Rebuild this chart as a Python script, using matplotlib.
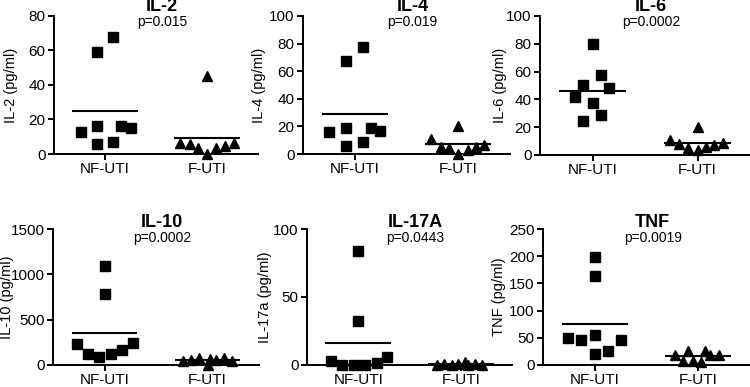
import matplotlib
matplotlib.use("Agg")
import matplotlib.pyplot as plt

plt.rcParams['font.family'] = ['Liberation Sans', 'DejaVu Sans']

groups = ["NF-UTI", "F-UTI"]
titles = ["IL-2", "IL-4", "IL-6", "IL-10", "IL-17A", "TNF"]
pvalues = ["p=0.015", "p=0.019", "p=0.0002", "p=0.0002", "p=0.0443", "p=0.0019"]
ylabels = ["IL-2 (pg/ml)", "IL-4 (pg/ml)", "IL-6 (pg/ml)",
           "IL-10 (pg/ml)", "IL-17a (pg/ml)", "TNF (pg/ml)"]
yticks = [[0, 20, 40, 60, 80], [0, 20, 40, 60, 80, 100], [0, 20, 40, 60, 80, 100],
          [0, 500, 1000, 1500], [0, 50, 100], [0, 50, 100, 150, 200, 250]]

# values per cytokine: NF-UTI (squares), F-UTI (triangles)
il2_nf = [13, 59, 16, 6, 68, 7, 16, 15]
il2_f = [6.6, 5.6, 3.7, 0, 45.2, 3.7, 4.8, 6.6]
il4_nf = [15.7, 67.4, 19.1, 6.0, 77.3, 8.9, 19.1, 16.7]
il4_f = [10.6, 5.3, 4.6, 20.3, 0, 2.9, 5.3, 6.5]
il6_nf = [42, 50.5, 24.4, 79.5, 37.2, 57.7, 28.7, 48]
il6_f = [10.6, 7.7, 5.1, 20.3, 3.4, 5.8, 7.0, 8.7]
il10_nf = [232, 121, 88, 1096, 779, 121, 165, 239]
il10_f = [40, 60, 75, 5, 65, 50, 80, 45]
il17_nf = [3, 0, 0, 84, 32.7, 0, 1.7, 5.7]
il17_f = [0, 0.5, 0, 0.8, 2, 0, 0.5, 0]
tnf_nf = [49.6, 46.6, 54.5, 198, 163, 20.2, 25.1, 46.6]
tnf_f = [17.8, 8, 25, 6.7, 5.5, 26.3, 17.8, 19]

nf_values = [il2_nf, il4_nf, il6_nf, il10_nf, il17_nf, tnf_nf]
f_values = [il2_f, il4_f, il6_f, il10_f, il17_f, tnf_f]

# horizontal scatter offsets (layout)
nf_jitter = [
    [-0.24, -0.08, -0.08, -0.08, 0.08, 0.08, 0.16, 0.25],
    [-0.245, -0.08, -0.08, -0.08, 0.08, 0.08, 0.16, 0.245],
    [-0.17, -0.09, -0.09, 0, 0, 0.08, 0.08, 0.16],
    [-0.27, -0.16, -0.05, 0, 0, 0.065, 0.17, 0.28],
    [-0.27, -0.16, -0.04, 0, 0, 0.065, 0.18, 0.28],
    [-0.255, -0.13, 0, 0, 0, 0, 0.125, 0.255],
]
f_jitter = [
    [-0.26, -0.17, -0.09, 0, 0, 0.09, 0.18, 0.26],
    [-0.26, -0.17, -0.09, 0, 0, 0.09, 0.17, 0.25],
    [-0.26, -0.18, -0.09, 0, 0, 0.08, 0.16, 0.245],
    [-0.24, -0.16, -0.08, 0, 0.02, 0.08, 0.16, 0.24],
    [-0.23, -0.16, -0.09, -0.03, 0.04, 0.07, 0.14, 0.21],
    [-0.22, -0.15, -0.10, -0.055, 0.026, 0.065, 0.115, 0.2],
]

W, H = 750, 387
fig = plt.figure(figsize=(W / 100, H / 100), dpi=100)

# axes boxes in pixels: left, top, right, bottom
boxes = [(54, 16, 258, 154), (303, 16, 510, 154), (540, 16, 750, 155),
         (53, 229, 259, 365), (307, 229, 512, 365), (543, 229, 750, 365)]
label_x = [-0.176, -0.18, -0.157, -0.19, -0.17, -0.18]

for i in range(6):
    l, t, r, b = boxes[i]
    ax = fig.add_axes([l / W, 1 - b / H, (r - l) / W, (b - t) / H])
    ax.set_xlim(-0.5, 1.5)
    ax.set_ylim(0, yticks[i][-1])
    for k, (vals, jit, mk, ms) in enumerate([(nf_values[i], nf_jitter[i], 's', 6.6),
                                            (f_values[i], f_jitter[i], '^', 7.6)]):
        xs = [k + j for j in jit]
        ax.plot(xs, vals, linestyle='none', marker=mk, markersize=ms,
                color='black', clip_on=False, zorder=3)
        mean = sum(vals) / len(vals)
        ax.plot([k - 0.32, k + 0.32], [mean, mean], color='black', lw=1.5,
                zorder=2, solid_capstyle='butt')
    for s in ['top', 'right']:
        ax.spines[s].set_visible(False)
    for s in ['left', 'bottom']:
        ax.spines[s].set_linewidth(1.4)
    ax.set_xticks([0, 1])
    ax.set_xticklabels(groups, fontsize=11)
    ax.set_yticks(yticks[i])
    ax.set_yticklabels([str(v) for v in yticks[i]], fontsize=11)
    ax.tick_params(axis='both', direction='out', length=4, width=1.4, pad=2)
    ax.set_ylabel(ylabels[i], fontsize=10.5)
    ax.yaxis.set_label_coords(label_x[i], 0.5)
    t_off, p_off = (9, -6) if i < 3 else (7, -9)
    ax.annotate(titles[i], xy=(0.53, 1.0), xycoords='axes fraction',
                xytext=(0, t_off), textcoords='offset pixels',
                ha='center', va='center', fontsize=13, fontweight='bold')
    ax.annotate(pvalues[i], xy=(0.53, 1.0), xycoords='axes fraction',
                xytext=(0, p_off), textcoords='offset pixels',
                ha='center', va='center', fontsize=10)

fig.savefig("out.png", dpi=100)
